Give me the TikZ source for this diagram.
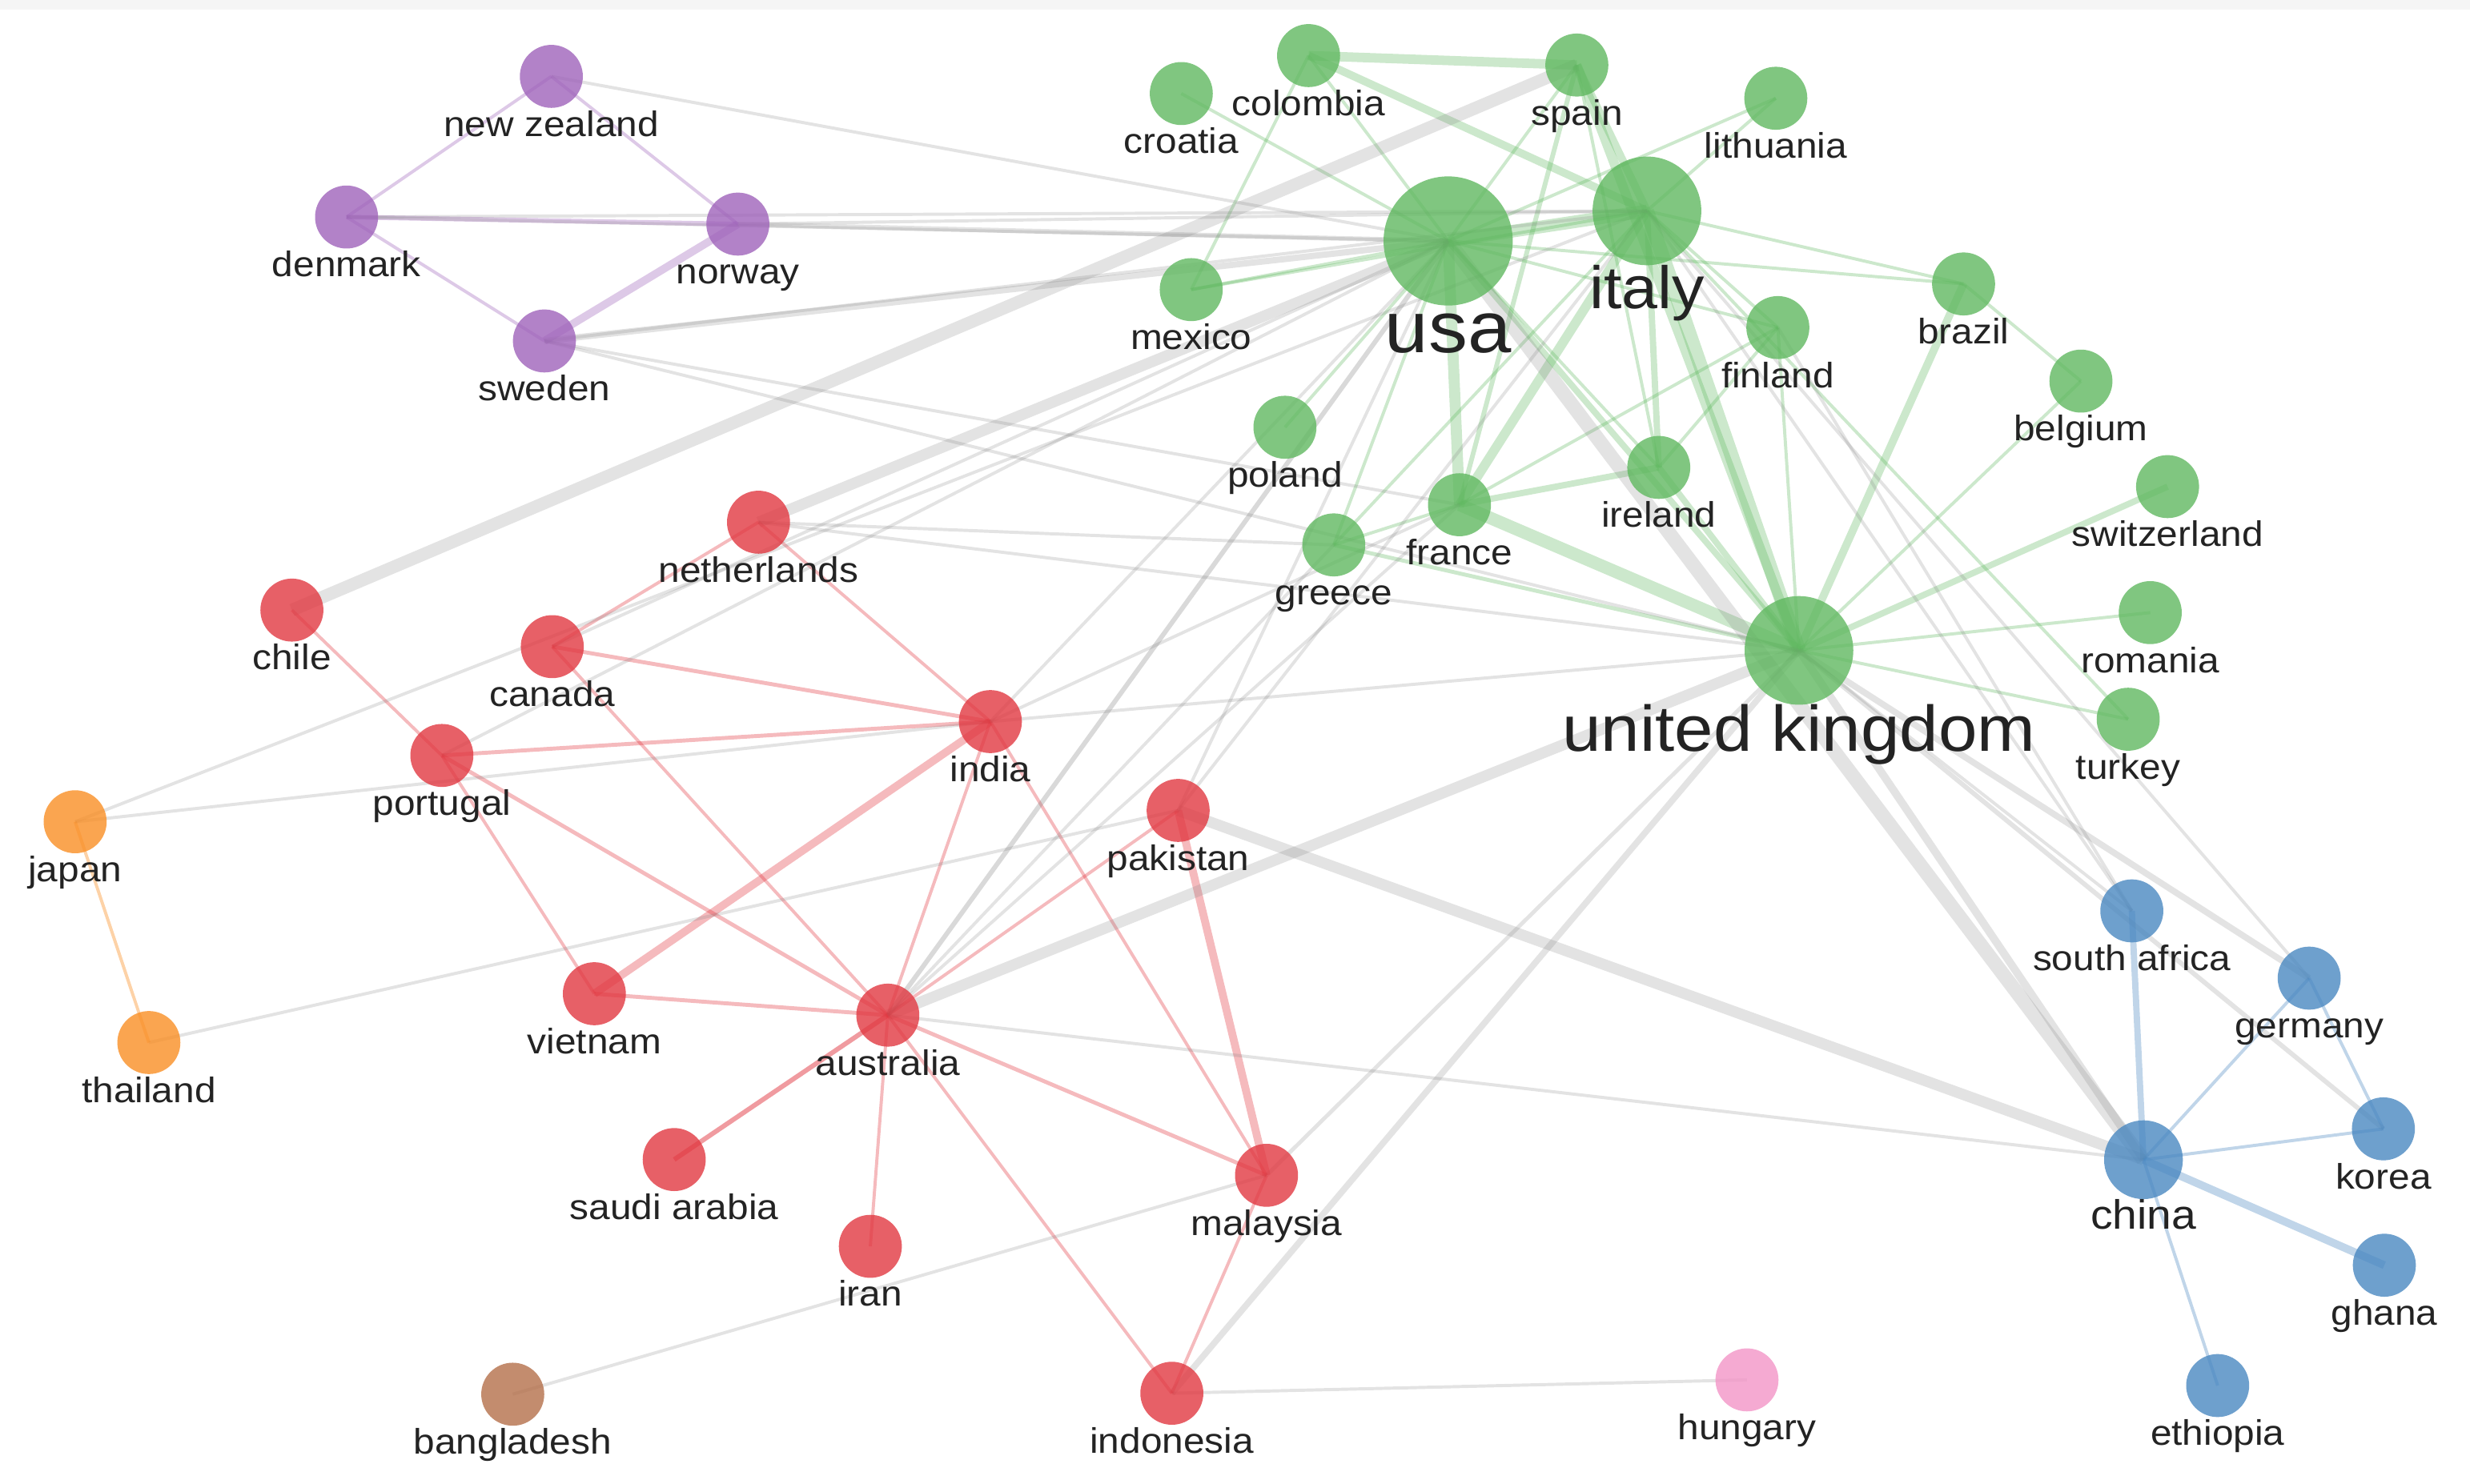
\documentclass[tikz,border=0pt]{standalone}
\usepackage{fontspec}
\setmainfont{Liberation Sans}[FakeStretch=1.08]
\usetikzlibrary{calc}
\pgfdeclarelayer{edges}
\pgfsetlayers{edges,main}
\definecolor{cgreen}{RGB}{96,184,96}
\definecolor{cred}{RGB}{225,56,65}
\definecolor{cpurple}{RGB}{159,99,186}
\definecolor{cblue}{RGB}{74,136,193}
\definecolor{corange}{RGB}{249,142,36}
\definecolor{cbrown}{RGB}{180,111,74}
\definecolor{cpink}{RGB}{242,149,199}
\definecolor{cgrey}{RGB}{128,128,128}
\definecolor{txt}{RGB}{35,35,35}
\tikzset{
  nd/.style={circle, inner sep=0pt, minimum size=40pt, fill opacity=0.8, draw=none},
  lbl/.style={anchor=base, inner sep=0pt, text=txt, font=\fontsize{22.5}{24}\selectfont},
  eg/.style={draw=cgrey, draw opacity=0.22, line width=2pt},
  egr/.style={draw=cgreen, draw opacity=0.32, line width=2pt},
  erd/.style={draw=cred, draw opacity=0.35, line width=2pt},
  ebl/.style={draw=cblue, draw opacity=0.35, line width=2pt},
  epu/.style={draw=cpurple, draw opacity=0.35, line width=2pt},
  eor/.style={draw=corange, draw opacity=0.4, line width=2pt},
}
\begin{document}
\begin{tikzpicture}[x=1pt,y=-1pt]
\useasboundingbox (0,0) rectangle (1568,942);
\fill[black!4] (0,0) rectangle (1568,6);
% ---------- nodes ----------
% purple
\node[nd, fill=cpurple] (nz) at (350,48.5) {};
\node[nd, fill=cpurple] (denmark) at (220,137.8) {};
\node[nd, fill=cpurple] (norway) at (468.4,142.3) {};
\node[nd, fill=cpurple] (sweden) at (345.6,216.5) {};
% green
\node[nd, fill=cgreen] (colombia) at (830.7,35.3) {};
\node[nd, fill=cgreen] (croatia) at (749.9,59.4) {};
\node[nd, fill=cgreen] (spain) at (1001,41.3) {};
\node[nd, fill=cgreen] (lithuania) at (1127.3,62.4) {};
\node[nd, fill=cgreen, minimum size=82pt] (usa) at (919.3,153) {};
\node[nd, fill=cgreen, minimum size=69pt] (italy) at (1045.5,133.9) {};
\node[nd, fill=cgreen] (mexico) at (756.2,183.9) {};
\node[nd, fill=cgreen] (brazil) at (1246.5,180.3) {};
\node[nd, fill=cgreen] (finland) at (1128.6,208) {};
\node[nd, fill=cgreen] (belgium) at (1321,242) {};
\node[nd, fill=cgreen] (poland) at (815.7,271.3) {};
\node[nd, fill=cgreen] (ireland) at (1053,296.8) {};
\node[nd, fill=cgreen] (switzerland) at (1376,309) {};
\node[nd, fill=cgreen] (france) at (926.5,320.5) {};
\node[nd, fill=cgreen] (greece) at (846.7,346) {};
\node[nd, fill=cgreen] (romania) at (1365,389) {};
\node[nd, fill=cgreen, minimum size=69pt] (uk) at (1142,413) {};
\node[nd, fill=cgreen] (turkey) at (1351,456.7) {};
% red
\node[nd, fill=cred] (netherlands) at (481.5,331.6) {};
\node[nd, fill=cred] (chile) at (185.3,387.4) {};
\node[nd, fill=cred] (canada) at (350.6,410.6) {};
\node[nd, fill=cred] (india) at (628.7,458.2) {};
\node[nd, fill=cred] (portugal) at (280.5,479.7) {};
\node[nd, fill=cred] (pakistan) at (747.9,514.6) {};
\node[nd, fill=cred] (vietnam) at (377.3,631) {};
\node[nd, fill=cred] (australia) at (563.6,644.6) {};
\node[nd, fill=cred] (saudi) at (428,736.3) {};
\node[nd, fill=cred] (malaysia) at (804,746.3) {};
\node[nd, fill=cred] (iran) at (552.5,791.4) {};
\node[nd, fill=cred] (indonesia) at (743.9,884.7) {};
% orange, brown, pink
\node[nd, fill=corange] (japan) at (47.7,521.8) {};
\node[nd, fill=corange] (thailand) at (94.5,662) {};
\node[nd, fill=cbrown] (bangladesh) at (325.5,885.3) {};
\node[nd, fill=cpink] (hungary) at (1109,876.2) {};
% blue
\node[nd, fill=cblue] (safrica) at (1353.3,578.4) {};
\node[nd, fill=cblue] (germany) at (1465.9,621.1) {};
\node[nd, fill=cblue, minimum size=50pt] (china) at (1360.7,736.4) {};
\node[nd, fill=cblue] (korea) at (1513,716.8) {};
\node[nd, fill=cblue] (ghana) at (1513.6,803.4) {};
\node[nd, fill=cblue] (ethiopia) at (1407.8,879.8) {};

% ---------- labels ----------
\foreach \n/\t in {nz/new zealand, denmark/denmark, norway/norway, sweden/sweden,
  colombia/colombia, croatia/croatia, spain/spain, lithuania/lithuania, mexico/mexico,
  brazil/brazil, finland/finland, belgium/belgium, poland/poland, ireland/ireland,
  switzerland/switzerland, france/france, greece/greece, romania/romania, turkey/turkey,
  netherlands/netherlands, chile/chile, canada/canada, india/india, portugal/portugal,
  pakistan/pakistan, vietnam/vietnam, australia/australia, saudi/saudi arabia,
  malaysia/malaysia, iran/iran, indonesia/indonesia, japan/japan, thailand/thailand,
  bangladesh/bangladesh, hungary/hungary, safrica/south africa, germany/germany,
  korea/korea, ghana/ghana, ethiopia/ethiopia}
  \node[lbl] (\n-l) at ([yshift=-38pt]\n.center) {\t};
\node[lbl, font=\fontsize{46}{48}\selectfont] (usa-l) at ([yshift=-71pt]usa.center) {usa};
\node[lbl, font=\fontsize{38}{40}\selectfont] (italy-l) at ([yshift=-62pt]italy.center) {italy};
\node[lbl, font=\fontsize{41}{43}\selectfont] (uk-l) at ([yshift=-64pt]uk.center) {united kingdom};
\node[lbl, font=\fontsize{26}{28}\selectfont] (china-l) at ([yshift=-44pt]china.center) {china};

% ---------- edges ----------
\begin{pgfonlayer}{edges}
% purple
\draw[epu] (nz.center) -- (denmark.center);
\draw[epu] (nz.center) -- (norway.center);
\draw[epu, line width=3pt] (denmark.center) -- (norway.center);
\draw[epu] (denmark.center) -- (sweden.center);
\draw[epu, line width=5pt] (sweden.center) -- (norway.center);
% orange
\draw[eor] (japan.center) -- (thailand.center);
% red
\draw[erd] (chile.center) -- (portugal.center);
\draw[erd] (netherlands.center) -- (canada.center);
\draw[erd] (netherlands.center) -- (india.center);
\draw[erd, line width=2.5pt] (canada.center) -- (india.center);
\draw[erd] (canada.center) -- (australia.center);
\draw[erd, line width=2.5pt] (portugal.center) -- (india.center);
\draw[erd] (portugal.center) -- (vietnam.center);
\draw[erd, line width=2.5pt] (portugal.center) -- (australia.center);
\draw[erd, line width=5pt] (india.center) -- (vietnam.center);
\draw[erd] (india.center) -- (australia.center);
\draw[erd] (india.center) -- (malaysia.center);
\draw[erd] (pakistan.center) -- (australia.center);
\draw[erd, line width=5pt] (pakistan.center) -- (malaysia.center);
\draw[erd, line width=2.5pt] (vietnam.center) -- (australia.center);
\draw[erd, line width=3pt, draw opacity=0.5] (australia.center) -- (saudi.center);
\draw[erd] (australia.center) -- (iran.center);
\draw[erd, line width=2.5pt] (australia.center) -- (malaysia.center);
\draw[erd] (australia.center) -- (indonesia.center);
\draw[erd] (malaysia.center) -- (indonesia.center);
% blue
\draw[ebl, line width=4pt] (safrica.center) -- (china.center);
\draw[ebl] (germany.center) -- (china.center);
\draw[ebl] (germany.center) -- (korea.center);
\draw[ebl] (china.center) -- (korea.center);
\draw[ebl, line width=5pt] (china.center) -- (ghana.center);
\draw[ebl] (china.center) -- (ethiopia.center);
% green
\draw[egr, line width=6pt] (colombia.center) -- (spain.center);
\draw[egr, line width=5pt] (colombia.center) -- (italy.center);
\draw[egr] (colombia.center) -- (usa.center);
\draw[egr] (colombia.center) -- (mexico.center);
\draw[egr] (croatia.center) -- (usa.center);
\draw[egr] (mexico.center) -- (usa.center);
\draw[egr] (mexico.center) -- (italy.center);
\draw[egr] (spain.center) -- (usa.center);
\draw[egr, line width=5pt] (spain.center) -- (italy.center);
\draw[egr, line width=3pt] (spain.center) -- (france.center);
\draw[egr, line width=6pt] (spain.center) -- (uk.center);
\draw[egr] (spain.center) -- (ireland.center);
\draw[egr] (lithuania.center) -- (italy.center);
\draw[egr] (lithuania.center) -- (usa.center);
\draw[egr, line width=8pt] (usa.center) -- (italy.center);
\draw[egr, line width=7pt] (usa.center) -- (france.center);
\draw[egr, line width=4pt] (usa.center) -- (uk.center);
\draw[egr] (usa.center) -- (poland.center);
\draw[egr] (usa.center) -- (greece.center);
\draw[egr] (usa.center) -- (ireland.center);
\draw[egr] (usa.center) -- (finland.center);
\draw[egr] (usa.center) -- (brazil.center);
\draw[egr, line width=6pt] (italy.center) -- (france.center);
\draw[egr, line width=9pt] (italy.center) -- (uk.center);
\draw[egr, line width=4pt] (italy.center) -- (ireland.center);
\draw[egr] (italy.center) -- (finland.center);
\draw[egr] (italy.center) -- (brazil.center);
\draw[egr] (italy.center) -- (greece.center);
\draw[egr] (italy.center) -- (turkey.center);
\draw[egr] (finland.center) -- (uk.center);
\draw[egr] (finland.center) -- (ireland.center);
\draw[egr, line width=5pt] (brazil.center) -- (uk.center);
\draw[egr] (brazil.center) -- (belgium.center);
\draw[egr] (belgium.center) -- (uk.center);
\draw[egr, line width=4pt] (switzerland.center) -- (uk.center);
\draw[egr] (romania.center) -- (uk.center);
\draw[egr] (turkey.center) -- (uk.center);
\draw[egr, line width=4pt] (ireland.center) -- (uk.center);
\draw[egr, line width=4pt] (ireland.center) -- (france.center);
\draw[egr, line width=8pt] (france.center) -- (uk.center);
\draw[egr] (france.center) -- (greece.center);
\draw[egr] (france.center) -- (finland.center);
\draw[egr, line width=2.5pt] (greece.center) -- (uk.center);
% grey
\draw[eg] (nz.center) -- (usa.center);
\draw[eg] (denmark.center) -- (usa.center);
\draw[eg] (denmark.center) -- (italy.center);
\draw[eg, line width=3pt] (norway.center) -- (usa.center);
\draw[eg] (norway.center) -- (italy.center);
\draw[eg, line width=4pt] (sweden.center) -- (usa.center);
\draw[eg] (sweden.center) -- (italy.center);
\draw[eg] (sweden.center) -- (uk.center);
\draw[eg] (sweden.center) -- (france.center);
\draw[eg, line width=8pt] (chile.center) -- (spain.center);
\draw[eg, line width=7pt] (netherlands.center) -- (usa.center);
\draw[eg] (netherlands.center) -- (greece.center);
\draw[eg] (netherlands.center) -- (uk.center);
\draw[eg] (canada.center) -- (usa.center);
\draw[eg] (portugal.center) -- (usa.center);
\draw[eg] (japan.center) -- (italy.center);
\draw[eg] (japan.center) -- (india.center);
\draw[eg] (thailand.center) -- (pakistan.center);
\draw[eg] (bangladesh.center) -- (malaysia.center);
\draw[eg] (indonesia.center) -- (hungary.center);
\draw[eg, line width=4pt] (indonesia.center) -- (uk.center);
\draw[eg, line width=2.5pt] (malaysia.center) -- (uk.center);
\draw[eg, line width=7pt] (australia.center) -- (uk.center);
\draw[eg, line width=3pt, draw opacity=0.3] (australia.center) -- (usa.center);
\draw[eg] (australia.center) -- (greece.center);
\draw[eg] (australia.center) -- (france.center);
\draw[eg] (australia.center) -- (china.center);
\draw[eg] (india.center) -- (uk.center);
\draw[eg] (india.center) -- (usa.center);
\draw[eg] (india.center) -- (france.center);
\draw[eg] (pakistan.center) -- (usa.center);
\draw[eg] (pakistan.center) -- (italy.center);
\draw[eg, line width=7pt] (pakistan.center) -- (china.center);
\draw[eg, line width=9pt] (usa.center) -- (china.center);
\draw[eg, line width=5pt] (uk.center) -- (china.center);
\draw[eg, line width=4pt] (uk.center) -- (germany.center);
\draw[eg, line width=3pt] (uk.center) -- (korea.center);
\draw[eg] (uk.center) -- (safrica.center);
\draw[eg] (italy.center) -- (safrica.center);
\draw[eg] (finland.center) -- (safrica.center);
\draw[eg] (italy.center) -- (germany.center);
\end{pgfonlayer}
\end{tikzpicture}
\end{document}
